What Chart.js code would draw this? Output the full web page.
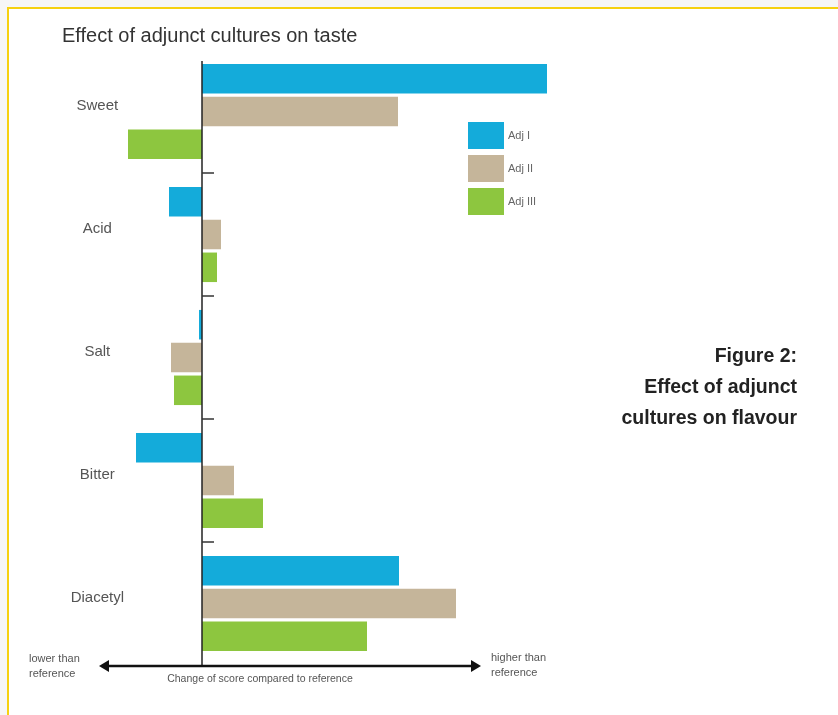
<!DOCTYPE html>
<html><head><meta charset="utf-8">
<script src="https://cdn.jsdelivr.net/npm/chart.js@4.4.0/dist/chart.umd.min.js"></script>
<style>
html,body{margin:0;padding:0;background:#f6f6f6;overflow:hidden;}
#frame{position:absolute;left:7px;top:7px;width:831px;height:708px;box-sizing:border-box;background:#fff;border-top:2px solid #F6D10F;border-left:2px solid #F6D10F;}
#c{position:absolute;left:0;top:0;}
</style></head><body>
<div id="frame"></div>
<canvas id="c" width="838" height="715"></canvas>
<script>
const categories = ['Sweet', 'Acid', 'Salt', 'Bitter', 'Diacetyl'];
const seriesNames = ['Adj I', 'Adj II', 'Adj III'];
const adj1 = [34.5, -3.3, -0.3, -6.6, 19.7];
const adj2 = [19.6, 1.9, -3.1, 3.2, 25.4];
const adj3 = [-7.4, 1.5, -2.8, 6.1, 16.5];
const seriesColors = ['#14ABDA', '#C5B59A', '#8DC63F'];
const chartTitle = 'Effect of adjunct cultures on taste';
const axisTitle = 'Change of score compared to reference';
const lowLabel = ['lower than', 'reference'];
const highLabel = ['higher than', 'reference'];
const caption = ['Figure 2:', 'Effect of adjunct', 'cultures on flavour'];
const arrowRange = [-10.3, 27.9];

const FONT = "'Liberation Sans', Arial, Helvetica, sans-serif";

const decor = {
  id: 'decor',
  afterDatasetsDraw(chart) {
    const ctx = chart.ctx, xs = chart.scales.x, ys = chart.scales.y, area = chart.chartArea;
    const x0 = xs.getPixelForValue(0);
    ctx.save();
    ctx.lineWidth = 1.5;
    // zero axis line, starting just above the first bar
    const firstBar = chart.getDatasetMeta(0).data[0];
    const topY = firstBar.y - firstBar.height / 2 - 3;
    ctx.strokeStyle = '#222';
    ctx.beginPath();
    ctx.moveTo(x0, topY);
    ctx.lineTo(x0, area.bottom);
    ctx.stroke();
    ctx.strokeStyle = '#333';
    for (let i = 0; i < categories.length - 1; i++) {
      const yb = (ys.getPixelForValue(i) + ys.getPixelForValue(i + 1)) / 2;
      ctx.beginPath();
      ctx.moveTo(x0, yb);
      ctx.lineTo(x0 + 12, yb);
      ctx.stroke();
    }
    ctx.restore();
  },
  afterDraw(chart) {
    const ctx = chart.ctx, xs = chart.scales.x, area = chart.chartArea;
    ctx.save();
    // double arrow
    const ya = area.bottom + 1;
    const xa = xs.getPixelForValue(arrowRange[0]);
    const xb = xs.getPixelForValue(arrowRange[1]);
    ctx.strokeStyle = '#111';
    ctx.fillStyle = '#111';
    ctx.lineWidth = 2.6;
    ctx.beginPath();
    ctx.moveTo(xa + 6, ya);
    ctx.lineTo(xb - 6, ya);
    ctx.stroke();
    ctx.beginPath();
    ctx.moveTo(xa, ya); ctx.lineTo(xa + 10, ya - 6); ctx.lineTo(xa + 10, ya + 6); ctx.closePath(); ctx.fill();
    ctx.beginPath();
    ctx.moveTo(xb, ya); ctx.lineTo(xb - 10, ya - 6); ctx.lineTo(xb - 10, ya + 6); ctx.closePath(); ctx.fill();
    // end labels
    ctx.font = '11px ' + FONT;
    ctx.fillStyle = '#555';
    ctx.textBaseline = 'middle';
    ctx.textAlign = 'left';
    ctx.fillText(lowLabel[0], 29, ya - 7);
    ctx.fillText(lowLabel[1], 29, ya + 8);
    ctx.fillText(highLabel[0], 491, ya - 8);
    ctx.fillText(highLabel[1], 491, ya + 7);
    ctx.font = '10.5px ' + FONT;
    ctx.textAlign = 'center';
    ctx.fillText(axisTitle, 260, ya + 13);
    // legend
    const lx = 468, ly = 122, bw = 36, bh = 27, step = 33;
    seriesNames.forEach((n, i) => {
      ctx.fillStyle = seriesColors[i];
      ctx.fillRect(lx, ly + i * step, bw, bh);
      ctx.fillStyle = '#666';
      ctx.font = '11px ' + FONT;
      ctx.textAlign = 'left';
      ctx.fillText(n, lx + bw + 4, ly + i * step + bh / 2);
    });
    // caption
    ctx.fillStyle = '#222';
    ctx.font = 'bold 19.5px ' + FONT;
    ctx.textAlign = 'right';
    caption.forEach((t, i) => ctx.fillText(t, 797, 357 + i * 31));
    ctx.restore();
  }
};

new Chart(document.getElementById('c'), {
  type: 'bar',
  data: {
    labels: categories,
    datasets: [
      { label: seriesNames[0], data: adj1, backgroundColor: seriesColors[0] },
      { label: seriesNames[1], data: adj2, backgroundColor: seriesColors[1] },
      { label: seriesNames[2], data: adj3, backgroundColor: seriesColors[2] }
    ]
  },
  options: {
    indexAxis: 'y',
    responsive: false,
    animation: false,
    devicePixelRatio: 1,
    layout: { padding: { left: 62, right: 286, top: 0, bottom: 50 } },
    plugins: {
      legend: { display: false },
      tooltip: { enabled: false },
      title: {
        display: true, text: chartTitle, align: 'start', color: '#333',
        font: { family: FONT, size: 20, weight: 'normal' },
        padding: { top: 24, bottom: 2 }
      }
    },
    scales: {
      x: {
        type: 'linear', min: -7.8, max: 35,
        afterBuildTicks: s => { s.ticks = [{ value: 0 }]; },
        ticks: { display: false },
        border: { display: false },
        grid: { display: false, drawTicks: false }
      },
      y: {
        type: 'category',
        position: 'left',
        afterFit: s => { s.width = 62; },
        grid: { display: false, drawTicks: false },
        border: { display: false },
        ticks: {
          crossAlign: 'center', padding: 0, labelOffset: -6,
          color: '#555', font: { family: FONT, size: 15 }
        }
      }
    }
  },
  plugins: [decor]
});
</script>
</body></html>
